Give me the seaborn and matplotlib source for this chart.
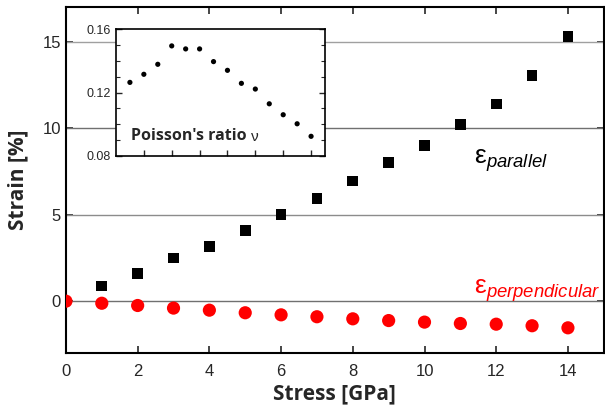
import numpy as np
import pandas as pd
import matplotlib
matplotlib.use("Agg")
import matplotlib.pyplot as plt
import seaborn as sns

stress_par = [1, 2, 3, 4, 5, 6, 7, 8, 9, 10, 11, 12, 13, 14]
strain_par = [0.87, 1.62, 2.49, 3.18, 4.10, 5.03, 5.95, 6.94, 8.03, 9.00, 10.20, 11.40, 13.06, 15.30]

stress_perp = [0, 1, 2, 3, 4, 5, 6, 7, 8, 9, 10, 11, 12, 13, 14]
strain_perp = [0.0, -0.12, -0.25, -0.40, -0.52, -0.67, -0.79, -0.90, -1.02, -1.12, -1.21, -1.29, -1.33, -1.42, -1.54]

stress_nu = [1, 2, 3, 4, 5, 6, 7, 8, 9, 10, 11, 12, 13, 14]
poisson_nu = [0.1264, 0.1315, 0.1378, 0.1494, 0.1475, 0.1475, 0.1395, 0.1340, 0.1258, 0.1222, 0.1129, 0.1060, 0.1003, 0.0924]

x_ticks = [0, 2, 4, 6, 8, 10, 12, 14]
y_ticks = [0, 5, 10, 15]
inset_y_ticks = [0.08, 0.12, 0.16]

sns.set_style("ticks")
plt.rcParams['font.family'] = ['Liberation Sans', 'DejaVu Sans']
plt.rcParams['mathtext.fontset'] = 'custom'
plt.rcParams['mathtext.rm'] = 'Liberation Sans'
plt.rcParams['mathtext.it'] = 'Liberation Sans:italic'

df_par = pd.DataFrame({"stress": stress_par, "strain": strain_par})
df_perp = pd.DataFrame({"stress": stress_perp, "strain": strain_perp})
df_nu = pd.DataFrame({"stress": stress_nu, "nu": poisson_nu})

fig = plt.figure(figsize=(6.05, 4.12), dpi=100)
ax = fig.add_axes([0.109, 0.143, 0.889, 0.840])

grid_colors = ['#707070', '#8c8c8c', '#707070', '#a0a0a0']
for yv, c in zip(y_ticks, grid_colors):
    ax.axhline(yv, color=c, lw=1.0, zorder=1)

sns.scatterplot(data=df_par, x="stress", y="strain", marker='s', s=60, color='black',
                edgecolor='none', ax=ax, zorder=3)
sns.scatterplot(data=df_perp, x="stress", y="strain", marker='o', s=90, color='#ff0000',
                edgecolor='none', ax=ax, zorder=3)

ax.set_xlim(0, 15)
ax.set_ylim(-3, 17)
ax.set_xticks(x_ticks)
ax.set_yticks(y_ticks)
ax.tick_params(direction='in', length=5, width=1.2, top=True, right=True, labelsize=12)
ax.tick_params(axis='x', pad=8)
for sp in ax.spines.values():
    sp.set_linewidth(1.5)
    sp.set_color('black')

ax.set_xlabel("Stress [GPa]", fontsize=15, fontweight='bold', family='Open Sans', labelpad=3)
ax.set_ylabel("Strain [%]", fontsize=15, fontweight='bold', family='Open Sans', labelpad=10)

ax.text(11.38, 7.95, r'$\mathrm{ε}_{\mathit{parallel}}$', fontsize=19, color='black', va='baseline')
ax.text(11.38, 0.42, r'$\mathrm{ε}_{\mathit{perpendicular}}$', fontsize=19, color='#ff0000', va='baseline')

axin = fig.add_axes([0.1917, 0.6214, 0.3455, 0.308])
sns.scatterplot(data=df_nu, x="stress", y="nu", marker='o', s=14, color='black',
                edgecolor='none', ax=axin)
axin.set_xlim(0, 15)
axin.set_ylim(0.08, 0.16)
axin.set_xticks(x_ticks[1:])
axin.set_xticklabels([])
axin.set_yticks(inset_y_ticks)
axin.set_yticklabels([f"{v:.2f}" for v in inset_y_ticks])
axin.set_yticks(np.arange(0.08, 0.1601, 0.01), minor=True)
axin.tick_params(direction='in', length=4, width=1, top=False, right=True, labelsize=9)
axin.tick_params(which='minor', direction='in', length=3, width=0.8, right=True, left=True)
axin.set_xlabel("")
axin.set_ylabel("")
for sp in axin.spines.values():
    sp.set_linewidth(1.2)
    sp.set_color('black')
t = axin.text(1.05, 0.0899, "Poisson's ratio", fontsize=11.5, fontweight='bold', family='Open Sans',
              va='baseline')
axin.annotate("ν", xy=(1, 0), xycoords=t, xytext=(3.5, 0), textcoords='offset points',
              fontsize=11, family='Liberation Sans', va='bottom', ha='left')

fig.savefig("out.png", dpi=100)
